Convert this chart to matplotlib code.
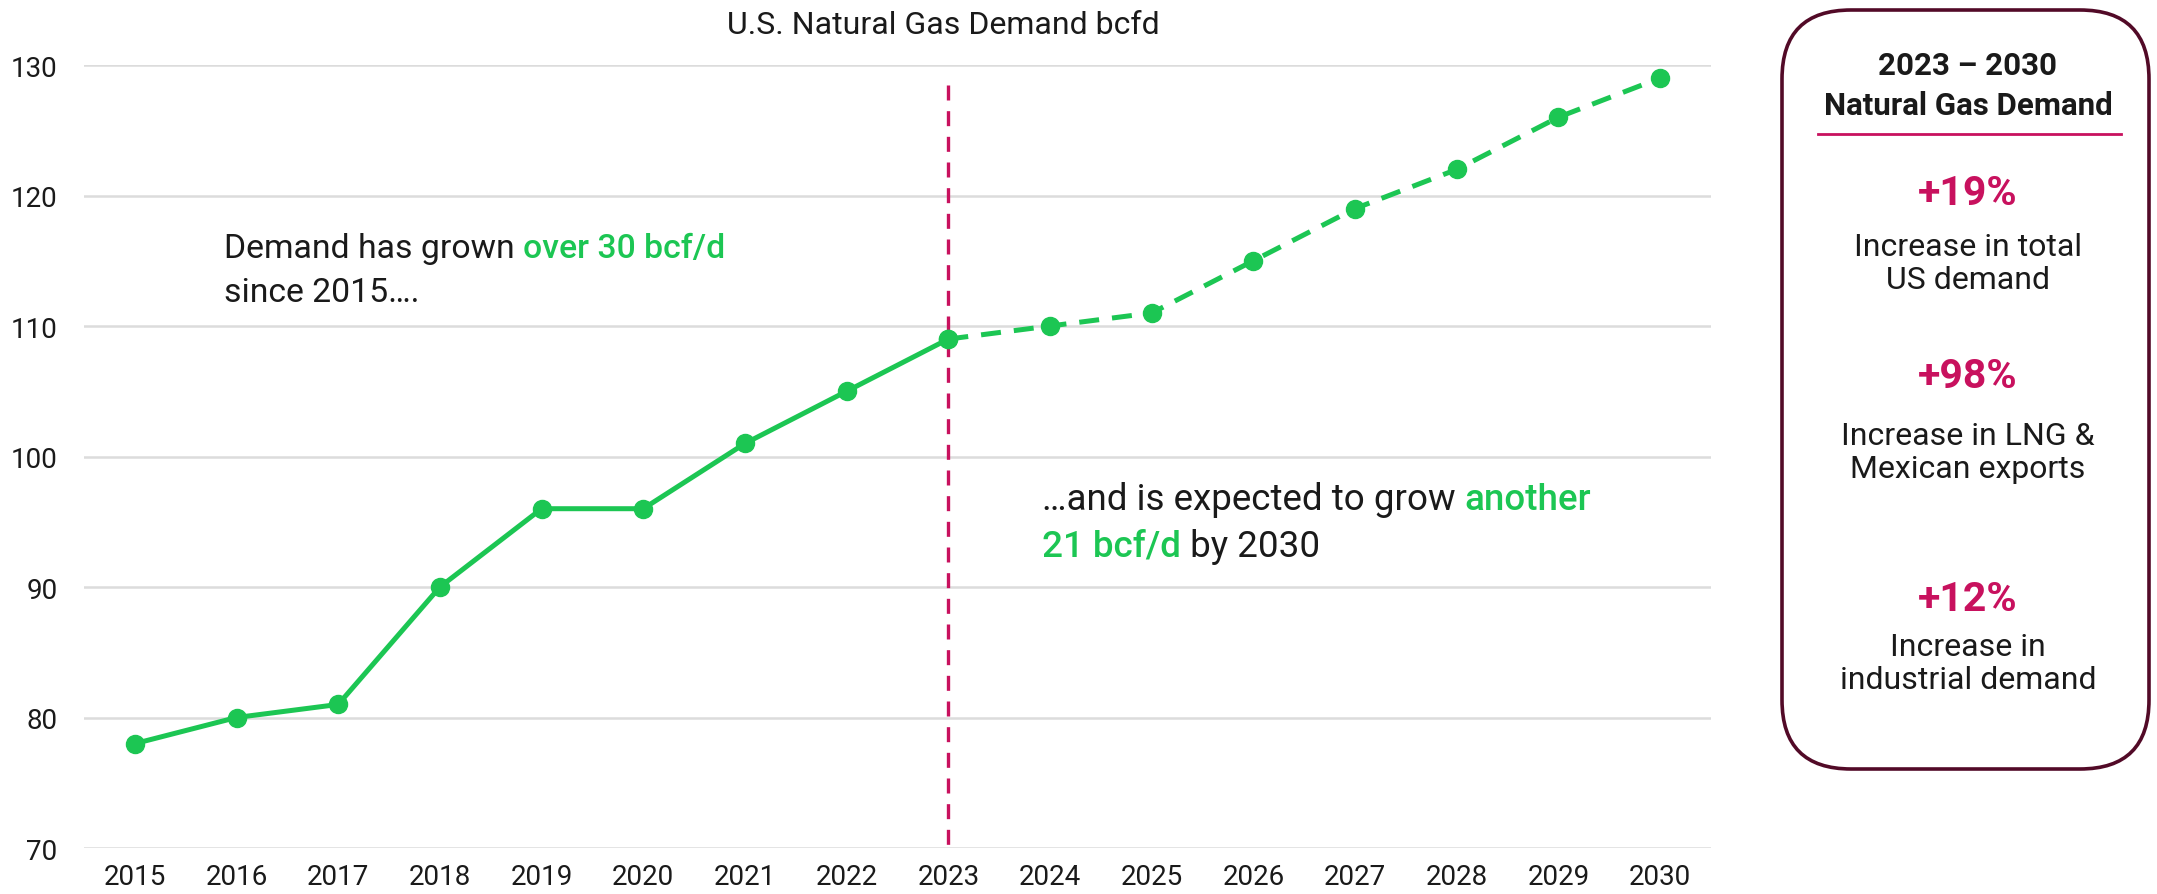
import matplotlib
matplotlib.use("Agg")
import matplotlib.pyplot as plt
from matplotlib.patches import FancyBboxPatch
from matplotlib.lines import Line2D

plt.rcParams['font.family'] = ['Roboto', 'DejaVu Sans']

years = ["2015", "2016", "2017", "2018", "2019", "2020", "2021", "2022",
         "2023", "2024", "2025", "2026", "2027", "2028", "2029", "2030"]
demand = [78, 80, 81, 90, 96, 96, 101, 105, 109, 110, 111, 115, 119, 122, 126, 129]
split_year = "2023"
y_ticks = [70, 80, 90, 100, 110, 120, 130]

GREEN = "#1cc653"
MAGENTA = "#c8115e"
MAROON = "#520a27"
DARK = "#1a1a1a"

W, H = 2157, 895
fig = plt.figure(figsize=(W / 100, H / 100), dpi=100)

def fx(px):
    return px / W

def fy(py):
    return 1 - py / H

ax = fig.add_axes([fx(84), fy(849), fx(1711) - fx(84), fy(66) - fy(849)])
x = list(range(len(years)))
k = years.index(split_year)

ax.plot(x[:k + 1], demand[:k + 1], color=GREEN, lw=3.6, marker='o', ms=13,
        solid_capstyle='round', clip_on=False, zorder=3)
ax.plot(x[k:], demand[k:], color=GREEN, lw=3.6, marker='o', ms=13,
        linestyle=(0, (4, 2.6)), clip_on=False, zorder=3)

ax.set_xlim(-0.5, len(years) - 0.5)
ax.set_ylim(70, 130)
ax.set_yticks(y_ticks)
ax.set_xticks(x)
ax.set_xticklabels(years)
ax.grid(axis='y', color='#dcdcdc', lw=1.8)
ax.set_axisbelow(True)
for s in ax.spines.values():
    s.set_visible(False)
ax.tick_params(length=0, labelsize=20, colors=DARK)
ax.tick_params(axis='x', pad=11)
ax.tick_params(axis='y', pad=19)

ax.plot([k, k], [128.5, 70], color=MAGENTA, lw=2.4, linestyle=(0, (4.5, 3.2)),
        zorder=2, clip_on=False)

fig.text(fx(943), fy(26), "U.S. Natural Gas Demand bcfd", fontsize=23, color=DARK,
         ha='center', va='center')

# annotations with mixed colours
def chain(parts, px, py, size):
    first = fig.text(fx(px), fy(py), parts[0][0], color=parts[0][1], fontsize=size,
                     fontweight=parts[0][2], ha='left', va='baseline')
    prev = first
    for txt, col, wt in parts[1:]:
        prev = ax.annotate(txt, xy=(1, 0), xycoords=prev, xytext=(0, 0),
                           textcoords='offset points', color=col, fontsize=size,
                           fontweight=wt, ha='left', va='bottom')
    return first

chain([("Demand has grown ", DARK, 'normal'), ("over 30 bcf/d", GREEN, 'medium')], 224, 258, 24.3)
chain([("since 2015….", DARK, 'normal')], 224, 302, 24.3)
chain([("…and is expected to grow ", DARK, 'normal'), ("another", GREEN, 'medium')], 1042, 510, 26.5)
chain([("21 bcf/d", GREEN, 'medium'), (" by 2030", DARK, 'normal')], 1042, 557, 26.5)

# right box
box = FancyBboxPatch((fx(1782), fy(770)), fx(2149) - fx(1782), fy(11) - fy(770),
                     boxstyle="round,pad=0,rounding_size=0.032",
                     transform=fig.transFigure, facecolor='white',
                     edgecolor=MAROON, lw=2.6, mutation_aspect=W / H)
fig.patches.append(box)

cx = fx(1968)
fig.text(cx, fy(66), "2023 – 2030", ha='center', va='center', fontsize=22.5,
         fontweight='bold', color=DARK)
fig.text(cx, fy(106), "Natural Gas Demand", ha='center', va='center', fontsize=22.5,
         fontweight='bold', color=DARK)
fig.add_artist(Line2D([fx(1818), fx(2121)], [fy(135), fy(135)], color=MAGENTA, lw=2,
                      transform=fig.transFigure))

stats = [("+19%", 194, "Increase in total\nUS demand", 264),
         ("+98%", 377, "Increase in LNG &\nMexican exports", 453),
         ("+12%", 600, "Increase in\nindustrial demand", 664)]
for big, by, small, sy in stats:
    fig.text(cx, fy(by), big, ha='center', va='center', fontsize=29.5,
             fontweight='bold', color=MAGENTA)
    fig.text(cx, fy(sy), small, ha='center', va='center', fontsize=23,
             color=DARK, linespacing=1.2)

fig.savefig("out.png", dpi=100, facecolor='white')
